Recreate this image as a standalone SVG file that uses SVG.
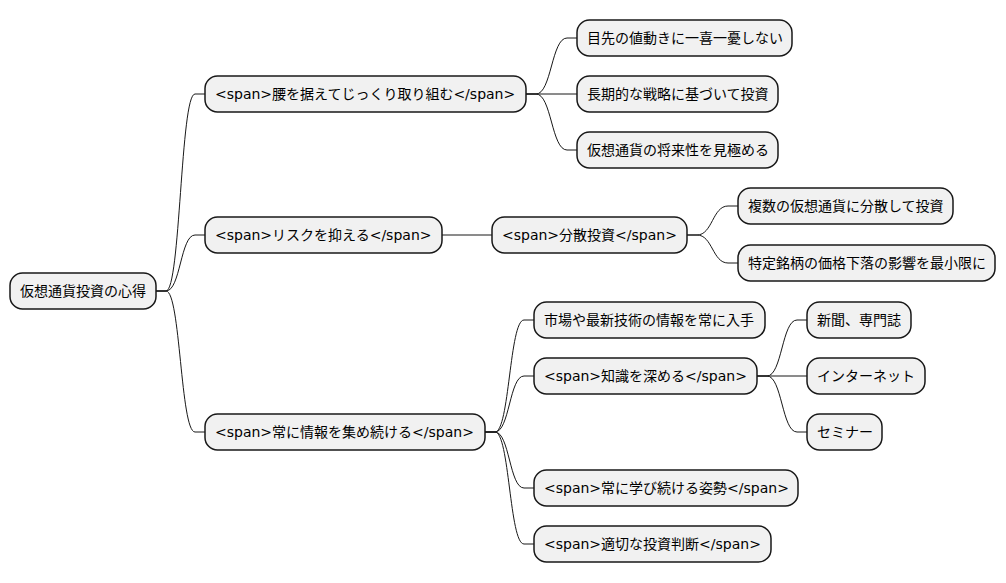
<svg xmlns="http://www.w3.org/2000/svg" width="1006" height="583" viewBox="0 0 1006 583">
<style>
.n rect{fill:#F1F1F1;stroke:#181818;stroke-width:1.5}
.n text{font-family:"DejaVu Sans","Noto Sans CJK JP",sans-serif;font-size:14px;fill:#000}
.c path{fill:none;stroke:#181818;stroke-width:1}
</style>
<rect width="1006" height="583" fill="#FFFFFF"/>
<g id="connectors" class="c">
<path d="M156,291 L166,291 C180.5,291 180.5,94 195,94 L205,94"/>
<path d="M156,291 L166,291 C180.5,291 180.5,235 195,235 L205,235"/>
<path d="M156,291 L166,291 C180.5,291 180.5,432 195,432 L205,432"/>
<path d="M526,94 L536,94 C551.5,94 551.5,38 567,38 L577,38"/>
<path d="M526,94 L577,94"/>
<path d="M526,94 L536,94 C551.5,94 551.5,150 567,150 L577,150"/>
<path d="M442,235 L492,235"/>
<path d="M687,235 L697,235 C712.5,235 712.5,206 728,206 L738,206"/>
<path d="M687,235 L697,235 C712.5,235 712.5,263 728,263 L738,263"/>
<path d="M485,432 L495,432 C509.5,432 509.5,320 524,320 L534,320"/>
<path d="M485,432 L495,432 C509.5,432 509.5,376 524,376 L534,376"/>
<path d="M485,432 L495,432 C509.5,432 509.5,488 524,488 L534,488"/>
<path d="M485,432 L495,432 C509.5,432 509.5,544 524,544 L534,544"/>
<path d="M757,376 L767,376 C782,376 782,320 797,320 L807,320"/>
<path d="M757,376 L807,376"/>
<path d="M757,376 L767,376 C782,376 782,432 797,432 L807,432"/>
</g>
<g id="root" class="n"><rect x="10" y="273" width="146" height="36" rx="12.5"/><text x="20" y="296">仮想通貨投資の心得</text></g>
<g id="n1" class="n"><rect x="205" y="76" width="321" height="36" rx="12.5"/><text x="215" y="99">&lt;span&gt;腰を据えてじっくり取り組む&lt;/span&gt;</text></g>
<g id="n1a" class="n"><rect x="577" y="20" width="215" height="36" rx="12.5"/><text x="587" y="43">目先の値動きに一喜一憂しない</text></g>
<g id="n1b" class="n"><rect x="577" y="76" width="201" height="36" rx="12.5"/><text x="587" y="99">長期的な戦略に基づいて投資</text></g>
<g id="n1c" class="n"><rect x="577" y="132" width="201" height="36" rx="12.5"/><text x="587" y="155">仮想通貨の将来性を見極める</text></g>
<g id="n2" class="n"><rect x="205" y="217" width="237" height="36" rx="12.5"/><text x="215" y="240">&lt;span&gt;リスクを抑える&lt;/span&gt;</text></g>
<g id="n2a" class="n"><rect x="492" y="217" width="195" height="36" rx="12.5"/><text x="502" y="240">&lt;span&gt;分散投資&lt;/span&gt;</text></g>
<g id="n2a1" class="n"><rect x="738" y="188" width="215" height="36" rx="12.5"/><text x="748" y="211">複数の仮想通貨に分散して投資</text></g>
<g id="n2a2" class="n"><rect x="738" y="245" width="257" height="36" rx="12.5"/><text x="748" y="268">特定銘柄の価格下落の影響を最小限に</text></g>
<g id="n3" class="n"><rect x="205" y="414" width="280" height="36" rx="12.5"/><text x="215" y="437">&lt;span&gt;常に情報を集め続ける&lt;/span&gt;</text></g>
<g id="n3a" class="n"><rect x="534" y="302" width="231" height="36" rx="12.5"/><text x="544" y="325">市場や最新技術の情報を常に入手</text></g>
<g id="n3b" class="n"><rect x="534" y="358" width="223" height="36" rx="12.5"/><text x="544" y="381">&lt;span&gt;知識を深める&lt;/span&gt;</text></g>
<g id="n3b1" class="n"><rect x="807" y="302" width="104" height="36" rx="12.5"/><text x="817" y="325">新聞、専門誌</text></g>
<g id="n3b2" class="n"><rect x="807" y="358" width="118" height="36" rx="12.5"/><text x="817" y="381">インターネット</text></g>
<g id="n3b3" class="n"><rect x="807" y="414" width="75" height="36" rx="12.5"/><text x="817" y="437">セミナー</text></g>
<g id="n3c" class="n"><rect x="534" y="470" width="264" height="36" rx="12.5"/><text x="544" y="493">&lt;span&gt;常に学び続ける姿勢&lt;/span&gt;</text></g>
<g id="n3d" class="n"><rect x="534" y="526" width="237" height="36" rx="12.5"/><text x="544" y="549">&lt;span&gt;適切な投資判断&lt;/span&gt;</text></g>
</svg>
